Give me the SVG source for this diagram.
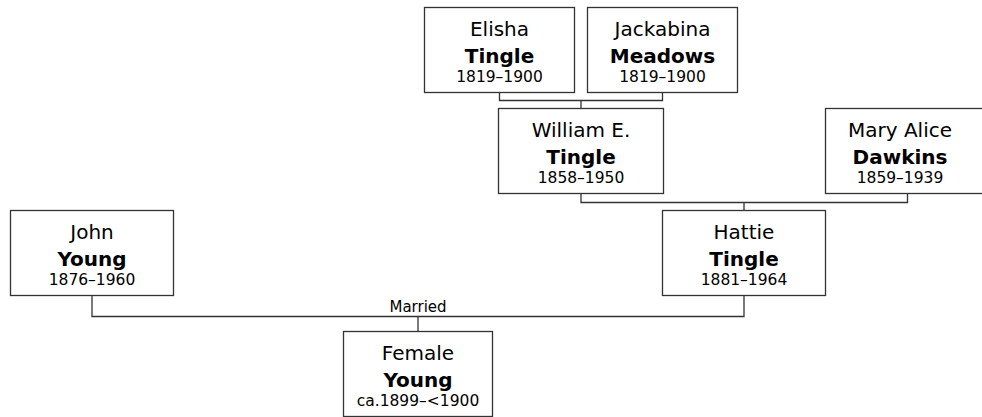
<svg xmlns="http://www.w3.org/2000/svg" width="982" height="417" viewBox="0 0 982 417">
<style>
.box{fill:#fff;stroke:#333;stroke-width:1.3}
.ln{fill:none;stroke:#333;stroke-width:1.3}
text{font-family:"DejaVu Sans",Verdana,sans-serif;fill:#000;text-anchor:middle}
.g{font-size:20px}
.s{font-size:20px;font-weight:bold}
.d{font-size:15.5px}
.lbl{font-size:15px}
</style>
<rect width="982" height="417" fill="#fff"/>
<g id="connectors">
<path class="ln" d="M499.5 93V100.5H662.5V93M581 100.5V108"/>
<path class="ln" d="M581 194V202.5H907.5V194M744 202.5V210"/>
<path class="ln" d="M92 296V316.5H744V296M418 316.5V331"/>
<text class="lbl" x="418" y="312">Married</text>
</g>
<g id="elisha"><rect class="box" x="424.5" y="7.5" width="150" height="85"/>
<text class="g" x="499.5" y="36">Elisha</text><text class="s" x="499.5" y="62.5">Tingle</text><text class="d" x="499.5" y="82">1819–1900</text></g>
<g id="jackabina"><rect class="box" x="587.5" y="7.5" width="150" height="85"/>
<text class="g" x="662.5" y="36">Jackabina</text><text class="s" x="662.5" y="62.5">Meadows</text><text class="d" x="662.5" y="82">1819–1900</text></g>
<g id="william"><rect class="box" x="498.5" y="108.5" width="165" height="85"/>
<text class="g" x="581" y="137">William E.</text><text class="s" x="581" y="163.5">Tingle</text><text class="d" x="581" y="183">1858–1950</text></g>
<g id="mary"><rect class="box" x="825.5" y="108.5" width="165" height="85"/>
<text class="g" x="900" y="137">Mary Alice</text><text class="s" x="900" y="163.5">Dawkins</text><text class="d" x="900" y="183">1859–1939</text></g>
<g id="john"><rect class="box" x="10.5" y="210.5" width="163" height="85"/>
<text class="g" x="92" y="239">John</text><text class="s" x="92" y="265.5">Young</text><text class="d" x="92" y="285">1876–1960</text></g>
<g id="hattie"><rect class="box" x="662.5" y="210.5" width="163" height="85"/>
<text class="g" x="744" y="239">Hattie</text><text class="s" x="744" y="265.5">Tingle</text><text class="d" x="744" y="285">1881–1964</text></g>
<g id="female"><rect class="box" x="343.5" y="331.5" width="149" height="85"/>
<text class="g" x="418" y="360">Female</text><text class="s" x="418" y="386.5">Young</text><text class="d" x="418" y="406">ca.1899–&lt;1900</text></g>
</svg>
